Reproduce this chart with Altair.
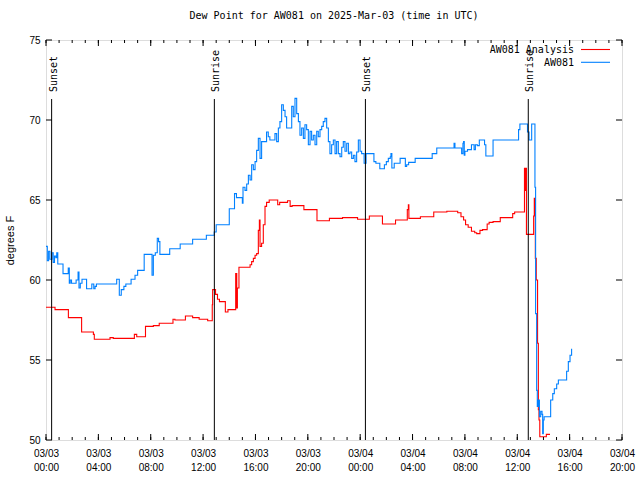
import altair as alt
import pandas as pd

FONT = "DejaVu Sans Mono"

title_text = "Dew Point for AW081 on 2025-Mar-03 (time in UTC)"
y_title = "degrees F"
series_names = ["AW081 Analysis", "AW081"]
series_colors = ["#ff0000", "#0080ff"]

# hours since 2025-03-03 00:00 UTC
aw081_hours = [0.0, 0.1, 0.2, 0.3, 0.45, 0.55, 0.65, 0.75, 0.82, 0.9, 1.3, 1.7, 1.78, 1.85, 1.95,
               2.3, 2.45, 2.52, 2.62, 2.75, 3.1, 3.5, 3.65, 3.75, 3.85, 5.4, 5.6, 5.75, 5.95, 6.1,
               6.5, 6.8, 7.0, 7.5, 8.1, 8.2, 8.35, 8.5, 8.6, 8.7, 9.45, 10.25, 11.2, 12.25, 12.85,
               13.0, 14.0, 14.4, 14.55, 15.0, 15.05, 15.2, 15.33, 15.46, 15.59, 15.71, 15.84, 15.97,
               16.09, 16.22, 16.35, 16.47, 16.85, 16.98, 17.1, 17.49, 17.62, 17.75, 17.87, 18.0,
               18.13, 18.26, 18.38, 18.77, 18.89, 19.02, 19.15, 19.28, 19.4, 19.53, 19.66, 19.78,
               19.91, 20.04, 20.17, 20.29, 20.42, 20.55, 20.68, 20.8, 20.93, 21.06, 21.18, 21.31,
               21.44, 21.57, 21.69, 21.82, 21.95, 22.08, 22.2, 22.33, 22.46, 22.59, 22.71, 22.84,
               22.97, 23.1, 23.22, 23.35, 23.48, 23.6, 23.73, 23.86, 23.99, 24.11, 24.3, 24.45,
               25.05, 25.2, 25.5, 25.85, 26.0, 26.15, 26.3, 26.35, 26.42, 26.6, 27.05, 27.45, 27.55,
               27.7, 28.2, 29.5, 29.85, 31.17, 31.24, 31.75, 31.85, 31.9, 31.95, 32.0, 32.2, 32.5,
               32.7, 32.8, 32.95, 33.1, 33.5, 33.6, 34.15, 36.1, 36.2, 36.78, 36.9, 37.1, 37.35,
               37.4, 37.48, 37.53, 37.61, 37.69, 37.79, 37.89, 37.94, 37.99, 38.05, 38.55, 38.71,
               38.83, 39.01, 39.14, 39.77, 39.9, 40.03, 40.15]
aw081_dewpt = [62.1, 61.2, 61.8, 61.3, 61.7, 61.1, 61.5, 61.4, 61.7, 61.0, 60.4, 60.75, 59.8, 60.0, 59.8,
               60.0, 60.5, 59.5, 59.8, 60.05, 59.45, 59.75, 59.45, 59.6, 59.75, 60.05, 59.05, 59.4, 59.6, 59.75,
               60.05, 60.3, 60.6, 61.6, 60.3, 61.55, 61.7, 62.6, 62.4, 61.6, 61.95, 62.25, 62.55, 62.8, 63.0,
               63.45, 64.45, 65.4, 65.15, 64.8, 65.8, 65.6, 66.0, 66.55, 66.25, 67.2, 66.9, 67.4,
               68.1, 68.85, 67.6, 68.65, 69.25, 68.95, 68.75, 69.15, 68.65, 69.5, 69.9, 70.95,
               70.6, 70.2, 69.5, 70.85, 70.2, 71.35, 70.4, 69.9, 69.05, 69.5, 68.85, 69.7,
               69.4, 68.45, 69.3, 68.75, 69.05, 68.45, 69.3, 68.95, 69.4, 69.6, 69.9, 70.1,
               69.5, 68.65, 67.9, 68.45, 68.75, 67.9, 68.65, 67.9, 67.7, 68.3, 68.65, 68.05,
               68.55, 67.9, 68.0, 67.6, 67.8, 67.4, 68.0, 68.75, 68.05, 67.9, 67.3, 67.9,
               67.4, 67.3, 66.95, 67.2, 67.4, 67.6, 67.7, 67.9, 67.0, 67.3, 67.6, 67.1, 67.2,
               67.35, 67.6, 67.9, 68.25, 68.55, 68.25, 67.9, 68.55, 68.65, 67.8, 68.05, 68.15, 68.45,
               68.15, 68.45, 68.4, 68.75, 68.45, 67.75, 68.75, 69.4, 69.75, 69.25, 68.75, 69.75, 65.8,
               57.9, 53.1, 52.1, 52.5, 51.45, 51.8, 51.6, 50.4, 51.25, 51.45, 52.5, 52.9,
               53.2, 53.5, 53.75, 54.3, 54.9, 55.3, 55.7]

analysis_hours = [0.0, 0.69, 1.71, 2.72, 3.62, 3.69, 4.89, 5.14, 6.75, 6.93, 7.6, 8.2, 8.65, 9.7, 9.85,
                  10.65, 11.2, 11.7, 12.35, 12.7, 12.73, 12.95, 13.1, 13.25, 13.7, 13.9, 14.49, 14.57,
                  14.62, 14.74, 15.59, 15.71, 15.84, 15.97, 16.09, 16.22, 16.3, 16.35, 16.47, 16.6,
                  16.73, 16.85, 17.05, 17.7, 17.85, 18.45, 18.65, 18.8, 19.7, 20.7, 21.65, 22.65,
                  23.8, 24.7, 25.7, 26.7, 27.6, 27.68, 27.72, 28.6, 29.62, 30.62, 31.45, 31.7, 31.9,
                  32.05, 32.25, 32.5, 32.75, 32.9, 33.15, 33.35, 33.7, 33.85, 34.15, 34.7, 35.65,
                  35.8, 36.55, 36.6, 36.65, 36.7, 37.25, 37.3, 37.38, 37.45, 37.55, 37.61, 37.66,
                  37.72, 38.22, 38.5]
analysis_dewpt = [58.3, 58.15, 57.65, 56.75, 56.6, 56.3, 56.4, 56.35, 56.6, 56.45, 57.1, 57.15, 57.3, 57.55, 57.5,
                  57.75, 57.65, 57.55, 57.45, 58.45, 59.4, 59.1, 58.8, 58.65, 58.0, 58.15, 60.4, 58.25,
                  59.5, 60.8, 60.95, 61.15, 61.35, 61.55, 61.65, 63.1, 63.75, 62.1, 62.3, 63.45,
                  64.6, 64.85, 65.0, 64.7, 64.85, 64.95, 64.6, 64.65, 64.4, 63.7, 63.85, 63.9,
                  63.8, 64.0, 63.5, 63.75, 64.4, 64.7, 63.85, 63.95, 64.25, 64.3, 64.2, 63.95, 63.75,
                  63.45, 63.3, 63.05, 62.95, 62.9, 63.1, 63.15, 63.5, 63.6, 63.65, 63.9, 64.15,
                  64.25, 66.98, 65.6, 66.98, 62.85, 64.0, 65.1, 61.35, 60.0, 56.05, 51.9, 51.25,
                  50.2, 50.35, 50.35]

sun_hours = [0.43, 12.86, 24.4, 36.84]
sun_labels = ["Sunset", "Sunrise", "Sunset", "Sunrise"]

x_major = list(range(0, 45, 4))
x_minor = list(range(0, 45, 1))
y_major = [50, 55, 60, 65, 70, 75]

df = pd.concat([
    pd.DataFrame({"hour": analysis_hours, "dewpt": analysis_dewpt, "series": series_names[0]}),
    pd.DataFrame({"hour": aw081_hours, "dewpt": aw081_dewpt, "series": series_names[1]}),
], ignore_index=True)
df_sun = pd.DataFrame({"hour": sun_hours, "label": sun_labels})
df_xmaj = pd.DataFrame({"hour": x_major})
df_xmin = pd.DataFrame({"hour": x_minor})
df_ymaj = pd.DataFrame({"dewpt": y_major})
df_leg = pd.DataFrame({"series": series_names, "row": [0, 1]})

x_scale = alt.Scale(domain=[0, 44], nice=False, zero=False)
y_scale = alt.Scale(domain=[50, 75], nice=False, zero=False)
color_scale = alt.Scale(domain=series_names, range=series_colors)

label_expr = ("['03/0' + (datum.value < 24 ? '3' : '4'), "
              "((datum.value % 24) < 10 ? '0' : '') + (datum.value % 24) + ':00']")

lines = alt.Chart(df).mark_line(interpolate="step-after", strokeWidth=1.1, clip=True).encode(
    x=alt.X("hour:Q", scale=x_scale,
            axis=alt.Axis(values=x_major, labelExpr=label_expr, title=None, labelOverlap=False,
                          labelFlush=False, labelBound=False, labelPadding=8, labelBaseline="top",
                          labelLineHeight=14, grid=False, ticks=False, domain=False)),
    y=alt.Y("dewpt:Q", scale=y_scale,
            axis=alt.Axis(values=y_major, title=y_title, labelPadding=6, grid=False, ticks=False,
                          domain=False, titleFontWeight="normal",
                          titleX=-36, titleY=200, titleAngle=270, titleAlign="center",
                          titleBaseline="middle")),
    color=alt.Color("series:N", scale=color_scale, legend=None),
    order=alt.Order("hour:Q"),
)

sun_rules = alt.Chart(df_sun).mark_rule(color="black", strokeWidth=1).encode(
    x="hour:Q", y=alt.value(59), y2=alt.value(400))
sun_text = alt.Chart(df_sun).mark_text(angle=270, align="left", baseline="middle", dy=2,
                                       font=FONT, fontSize=10, color="black").encode(
    x="hour:Q", y=alt.value(52), text="label:N")

tick_style = dict(color="black", strokeWidth=1)
bot_major = alt.Chart(df_xmaj).mark_rule(**tick_style).encode(x="hour:Q", y=alt.value(400), y2=alt.value(394))
top_major = alt.Chart(df_xmaj).mark_rule(**tick_style).encode(x="hour:Q", y=alt.value(0), y2=alt.value(6))
bot_minor = alt.Chart(df_xmin).mark_rule(**tick_style).encode(x="hour:Q", y=alt.value(400), y2=alt.value(397))
top_minor = alt.Chart(df_xmin).mark_rule(**tick_style).encode(x="hour:Q", y=alt.value(0), y2=alt.value(3))
left_major = alt.Chart(df_ymaj).mark_rule(**tick_style).encode(y="dewpt:Q", x=alt.value(0), x2=alt.value(6))
right_major = alt.Chart(df_ymaj).mark_rule(**tick_style).encode(y="dewpt:Q", x=alt.value(576), x2=alt.value(570))

leg_text0 = alt.Chart(df_leg[df_leg.row == 0]).mark_text(align="right", baseline="middle", font=FONT,
                                                         fontSize=10, color="black").encode(
    x=alt.value(528), y=alt.value(10), text="series:N")
leg_text1 = alt.Chart(df_leg[df_leg.row == 1]).mark_text(align="right", baseline="middle", font=FONT,
                                                         fontSize=10, color="black").encode(
    x=alt.value(528), y=alt.value(22.5), text="series:N")
leg_line0 = alt.Chart(df_leg[df_leg.row == 0]).mark_rule(strokeWidth=1.1).encode(
    x=alt.value(535), x2=alt.value(564), y=alt.value(9.5),
    color=alt.Color("series:N", scale=color_scale, legend=None))
leg_line1 = alt.Chart(df_leg[df_leg.row == 1]).mark_rule(strokeWidth=1.1).encode(
    x=alt.value(535), x2=alt.value(564), y=alt.value(22.3),
    color=alt.Color("series:N", scale=color_scale, legend=None))

chart = alt.layer(
    lines, sun_rules, sun_text, bot_major, top_major, bot_minor, top_minor, left_major, right_major,
    leg_text0, leg_text1, leg_line0, leg_line1,
).properties(
    width=576, height=400,
    autosize="none",
    padding={"left": 46, "top": 40, "right": 18, "bottom": 40},
    title=alt.Title(title_text, font=FONT, fontSize=10, fontWeight="normal", anchor="middle",
                    offset=14, color="black"),
).configure_view(
    stroke="black", strokeWidth=1,
).configure_axis(
    domain=False, ticks=False, grid=False, labelFont=FONT, labelFontSize=10, labelColor="black",
    titleFont=FONT, titleFontSize=10, titleFontWeight="normal", titleColor="black",
).configure(background="white")

chart.save("out.html", embed_options={"renderer": "svg", "actions": False})
